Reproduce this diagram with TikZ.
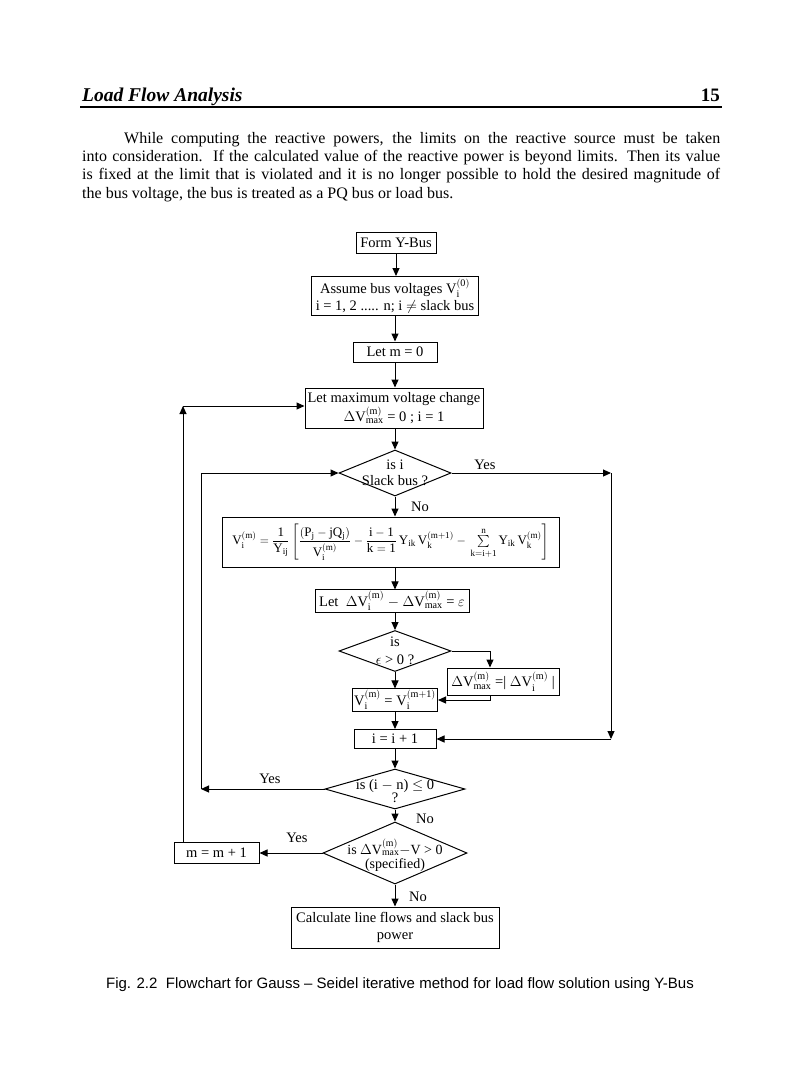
\documentclass[tikz,border=0pt]{standalone}
\usepackage{amsmath}
\usepackage{fontspec}
\setmainfont{Liberation Serif}
\newfontfamily\capfont{Liberation Sans}
\setmathrm{Liberation Serif}
\usetikzlibrary{shapes.geometric,arrows.meta}
\newcommand\dvmax{$\Delta\mathrm{V^{(m)}_{max}}$}
\newcommand\vim{$\mathrm{V_i^{(m)}}$}
\begin{document}
\begin{tikzpicture}[x=1pt,y=-1pt,
  fc/.style={font=\fontsize{14.5}{16.5}\selectfont},
  box/.style={draw, line width=1pt, inner sep=1.5pt, align=center, fc},
  dia/.style={draw, diamond, line width=1pt, inner sep=0pt},
  arr/.style={line width=1pt, -{Triangle[length=8pt,width=7pt]}},
  ln/.style={line width=1pt},
  lbl/.style={fc, inner sep=0pt},
  ptext/.style={font=\fontsize{16}{18}\selectfont, inner sep=0pt, anchor=base west}
]
\useasboundingbox[fill=white] (0,0) rectangle (797,1088);

% header
\node[anchor=base west, inner sep=0pt, font=\fontsize{19.5}{22}\selectfont\bfseries\itshape] (hdr) at (82,101) {Load Flow Analysis};
\node[anchor=base east, inner sep=0pt, font=\fontsize{19}{22}\selectfont\bfseries] (pg) at (720,101) {15};
\coordinate (r1) at (80,107);
\coordinate (r2) at (722,107);
\draw[line width=1.4pt] (r1) -- (r2);

% paragraph
\node[ptext] (p1) at (124,143) {\makebox[596pt][s]{While computing the reactive powers, the limits on the reactive source must be taken}};
\node[ptext] (p2) at (82,161) {\makebox[638pt][s]{into consideration.\ \ If the calculated value of the reactive power is beyond limits. Then its value}};
\node[ptext] (p3) at (82,179) {\makebox[638pt][s]{is fixed at the limit that is violated and it is no longer possible to hold the desired magnitude of}};
\node[ptext] (p4) at (82,198) {the bus voltage, the bus is treated as a PQ bus or load bus.};

% flowchart nodes
\node[box, minimum width=80pt, minimum height=21pt] (formy) at (396,243) {Form Y-Bus};
\node[box, minimum width=167pt, minimum height=39pt] (assume) at (395,296) {Assume bus voltages V$_\mathrm{i}^{(\mathrm{0})}$\\ i = 1, 2 ..... n; i $\neq$ slack bus};
\node[box, minimum width=84pt, minimum height=20pt] (letm) at (395,352) {Let m = 0};
\node[box, minimum width=178pt, minimum height=40pt] (letmax) at (394,408) {Let maximum voltage change\\ \dvmax{} = 0 ; i = 1};
\node[dia, minimum width=112pt, minimum height=46pt, label={[lbl, align=center]center:{is i\\[-1pt]Slack bus ?}}] (d1) at (395,473) {};
\node[box, minimum width=337pt, minimum height=50pt, inner sep=1pt, font=\fontsize{13}{15.5}\selectfont] (formula) at (390.5,542)
  {$\mathrm{V_i^{(m)}} = \dfrac{\mathrm{1}}{\mathrm{Y_{ij}}}\left[\dfrac{(\mathrm{P_j}-\mathrm{jQ_j})}{\mathrm{V_i^{(m)}}} - \dfrac{\mathrm{i}-\mathrm{1}}{\mathrm{k}=\mathrm{1}}\,\mathrm{Y_{ik}\,V_k^{(m+1)}} - \,\sum\limits_{\mathrm{k=i+1}}^{\mathrm{n}} \mathrm{Y_{ik}\,V_k^{(m)}}\right]$};
\node[box, minimum width=154pt, minimum height=22pt] (letdv) at (392,601) {Let \ $\Delta$\vim{} $-$ \dvmax{} = $\varepsilon$};
\node[dia, minimum width=112pt, minimum height=41pt, label={[lbl, align=center]center:{is\\[1pt]$\epsilon$ > 0 ?}}] (d2) at (395,651) {};
\node[box, minimum width=112pt, minimum height=27pt] (dvm) at (503,681.5) {\dvmax{} =| $\Delta$\vim{} |};
\node[box, minimum width=85pt, minimum height=22pt] (vbox) at (395,700) {\vim{} = $\mathrm{V_i^{(m+1)}}$};
\node[box, minimum width=82pt, minimum height=19pt] (ibox) at (395,739) {i = i + 1};
\node[dia, minimum width=140pt, minimum height=40pt, label={[lbl, align=center, yshift=-2pt]center:{is (i $-$ n) $\leq$ 0\\[-3pt]?}}] (d3) at (395,789) {};
\node[dia, minimum width=144pt, minimum height=62pt, label={[lbl, align=center, font=\fontsize{14}{16}\selectfont, yshift=-2pt]center:{is \dvmax$-$V > 0\\[-2pt](specified)}}] (d4) at (395,853) {};
\node[box, minimum width=85pt, minimum height=21pt] (mbox) at (216.5,853) {m = m + 1};
\node[box, minimum width=208pt, minimum height=41pt] (calc) at (395,927.5) {Calculate line flows and slack bus\\ power};

% labels
\node[lbl] (y1) at (485,465) {Yes};
\node[lbl] (n1) at (420,507) {No};
\node[lbl] (y3) at (270,779) {Yes};
\node[lbl] (n3) at (425,819) {No};
\node[lbl] (y4) at (297,838) {Yes};
\node[lbl] (n4) at (418,897) {No};

% main vertical connectors
\draw[arr] (formy.south) -- (formy.south |- assume.north);
\draw[arr] (assume.south) -- (assume.south |- letm.north);
\draw[arr] (letm.south) -- (letm.south |- letmax.north);
\draw[arr] (letmax.south -| d1.north) -- (d1.north);
\draw[arr] (d1.south) -- (d1.south |- formula.north);
\draw[arr] (d1.south |- formula.south) -- (d1.south |- letdv.north);
\draw[arr] (d1.south |- letdv.south) -- (d2.north);
\draw[arr] (d2.south) -- (vbox.north);
\draw[arr] (vbox.south) -- (ibox.north);
\draw[arr] (ibox.south) -- (d3.north);
\draw[arr] (d3.south) -- (d4.north);
\draw[arr] (d4.south) -- (calc.north);

% epsilon branch
\coordinate (c2) at (490,651);
\draw[ln] (d2.east) -- (c2);
\draw[arr] (c2) -- (c2 |- dvm.north);
\draw[arr] (c2 |- dvm.south) |- (vbox.east);

% slack bus yes branch
\coordinate (cR) at (611,473);
\coordinate (cR2) at (611,739);
\draw[arr] (d1.east) -- (cR);
\draw[arr] (cR) -- (cR2);
\draw[arr] (cR2) -- (ibox.east);

% (i-n) yes branch
\coordinate (cY) at (201,789);
\draw[arr] (d3.west) -- (cY);
\draw[arr] (cY) -- (cY |- d1.west) -- (d1.west);

% convergence yes branch
\coordinate (cL) at (183,406);
\draw[arr] (d4.west) -- (mbox.east);
\draw[arr] (cL |- mbox.north) -- (cL);
\draw[arr] (cL) -- (cL -| letmax.west);

% caption
\node[anchor=base, inner sep=0pt, font=\capfont\fontsize{15}{18}\selectfont] (cap) at (400,988) {Fig. 2.2\ \ Flowchart for Gauss – Seidel iterative method for load flow solution using Y-Bus};
\end{tikzpicture}
\end{document}
